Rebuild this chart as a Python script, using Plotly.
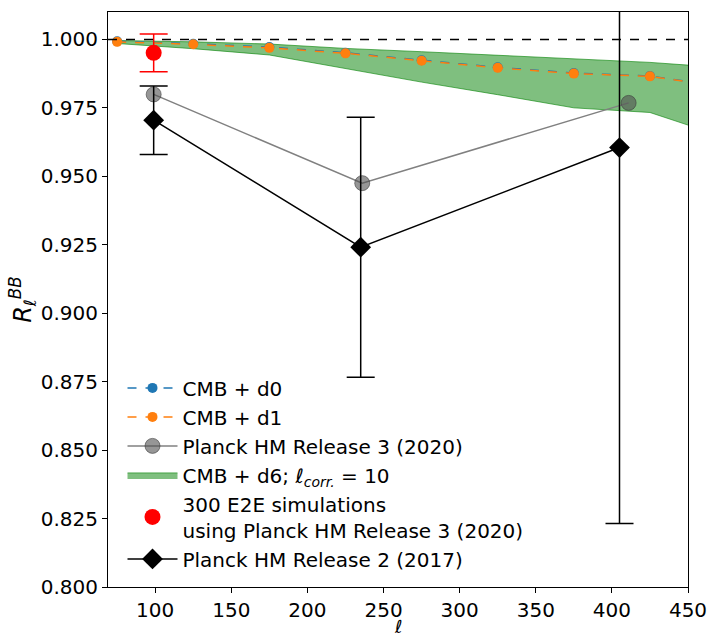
import plotly.graph_objects as go

# ---- data ----
ell_sim = [75, 125, 175, 225, 275, 325, 375, 425, 475]
r_d0 = [0.9993, 0.9984, 0.9972, 0.9951, 0.9924, 0.9898, 0.9877, 0.9866, 0.9827]
r_d1 = [0.9991, 0.9982, 0.9969, 0.9949, 0.9922, 0.9896, 0.9875, 0.9865, 0.9825]
d6_low = [0.9985, 0.9966, 0.9943, 0.9893, 0.9844, 0.9798, 0.9750, 0.9733, 0.9641]
d6_high = [0.9996, 0.9991, 0.9983, 0.9967, 0.9955, 0.9942, 0.9929, 0.9916, 0.9896]

ell_r3 = [99, 236, 411]
r_r3 = [0.9799, 0.9475, 0.9768]

ell_e2e = [99]
r_e2e = [0.9951]
err_e2e = [0.0069]

ell_r2 = [99, 235, 405]
r_r2 = [0.9705, 0.9241, 0.9605]
err_r2 = [0.0125, 0.0475, 0.1373]

x_ticks = [100, 150, 200, 250, 300, 350, 400, 450]
y_ticks = [0.800, 0.825, 0.850, 0.875, 0.900, 0.925, 0.950, 0.975, 1.000]

FONT = "DejaVu Sans"

fig = go.Figure()

# d6 band
fig.add_trace(go.Scatter(x=ell_sim, y=d6_low, mode="lines",
                         line=dict(color="rgba(0,128,0,0.6)", width=1),
                         showlegend=False, hoverinfo="skip"))
fig.add_trace(go.Scatter(x=ell_sim, y=d6_high, mode="lines", fill="tonexty",
                         fillcolor="rgba(0,128,0,0.5)",
                         line=dict(color="rgba(0,128,0,0.6)", width=1),
                         name="CMB + d6; <i>ℓ<sub>corr.</sub></i> = 10",
                         legendrank=4))

# d0, d1
fig.add_trace(go.Scatter(x=ell_sim, y=r_d0, mode="lines+markers",
                         line=dict(color="#1f77b4", width=1.5, dash="dash"),
                         marker=dict(color="#1f77b4", size=10),
                         name="CMB + d0", legendrank=1))
fig.add_trace(go.Scatter(x=ell_sim, y=r_d1, mode="lines+markers",
                         line=dict(color="#ff7f0e", width=1.5, dash="dash"),
                         marker=dict(color="#ff7f0e", size=10),
                         name="CMB + d1", legendrank=2))

# Planck HM R3
fig.add_trace(go.Scatter(x=ell_r3, y=r_r3, mode="lines+markers",
                         line=dict(color="gray", width=1.5),
                         marker=dict(color="rgba(80,80,80,0.6)", size=15,
                                     line=dict(color="rgba(60,60,60,0.6)", width=1)),
                         name="Planck HM Release 3 (2020)", legendrank=3))

# Planck HM R2
fig.add_trace(go.Scatter(x=ell_r2, y=r_r2, mode="lines+markers",
                         line=dict(color="black", width=1.5),
                         marker=dict(color="black", size=16, symbol="diamond"),
                         error_y=dict(type="data", array=err_r2, color="black",
                                      thickness=1.5, width=14),
                         name="Planck HM Release 2 (2017)", legendrank=6))

# E2E sims
fig.add_trace(go.Scatter(x=ell_e2e, y=r_e2e, mode="markers",
                         marker=dict(color="red", size=16),
                         error_y=dict(type="data", array=err_e2e, color="red",
                                      thickness=1.5, width=14),
                         name="300 E2E simulations<br>using Planck HM Release 3 (2020)",
                         legendrank=5))

fig.add_hline(y=1.0, line=dict(color="black", width=1.5, dash="dash"))

fig.add_annotation(text="<i>ℓ</i>", xref="paper", yref="paper", x=0.5, y=-0.069,
                   xanchor="center", yanchor="middle", showarrow=False,
                   font=dict(size=18))

fig.update_layout(
    width=721, height=635,
    margin=dict(l=108, r=33, t=12, b=48),
    paper_bgcolor="white", plot_bgcolor="white",
    font=dict(family=FONT, size=20, color="black"),
    legend=dict(x=0.025, y=0.015, xanchor="left", yanchor="bottom",
                traceorder="normal",
                bgcolor="rgba(255,255,255,0)", font=dict(size=20),
                itemwidth=50, tracegroupgap=0),
    xaxis=dict(range=[69, 450], tickvals=x_ticks, ticks="outside", ticklen=5,
               tickcolor="black", showline=True, linecolor="black", mirror=True,
               showgrid=False, zeroline=False, automargin=False),
    yaxis=dict(range=[0.8, 1.01], tickvals=y_ticks, tickformat=".3f",
               ticks="outside", ticklen=5, tickcolor="black",
               showline=True, linecolor="black", mirror=True,
               showgrid=False, zeroline=False, automargin=False,
               title=dict(text="<i>R</i><sub><i>ℓ</i></sub><sup><i>BB</i></sup>", standoff=2)),
)

fig.write_html("out.html")
